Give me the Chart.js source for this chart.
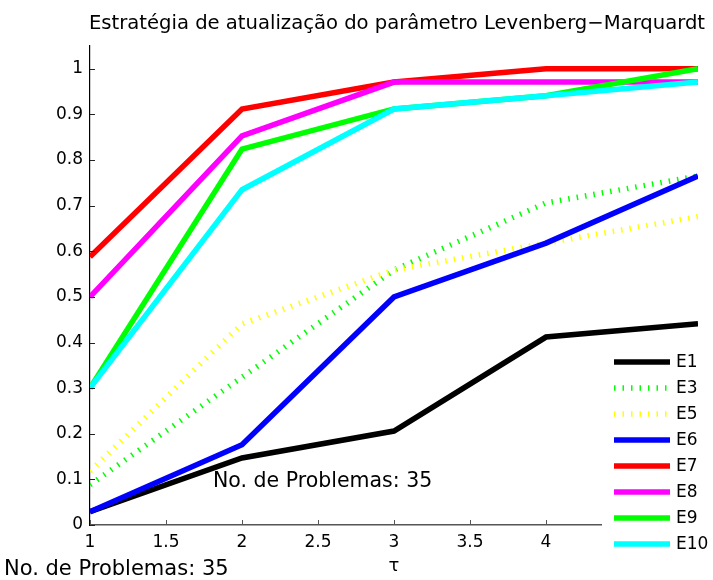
<!DOCTYPE html>
<html>
<head>
<meta charset="utf-8">
<script src="https://cdn.jsdelivr.net/npm/chart.js@4.4.0/dist/chart.umd.min.js"></script>
<style>
  html, body { margin: 0; padding: 0; background: #fff; }
  #wrap { width: 713px; height: 580px; }
</style>
</head>
<body>
<div id="wrap"><canvas id="perfChart"></canvas></div>
<script>
// valores de tau (eixo x)
const tau = [1, 2, 3, 4, 5];

// perfis de desempenho
const e1 = [0.029, 0.147, 0.206, 0.412, 0.441];
const e3 = [0.088, 0.324, 0.559, 0.706, 0.765];
const e5 = [0.118, 0.441, 0.559, 0.618, 0.676];
const e6 = [0.029, 0.176, 0.500, 0.618, 0.765];
const e7 = [0.588, 0.912, 0.971, 1.000, 1.000];
const e8 = [0.500, 0.853, 0.971, 0.971, 0.971];
const e9 = [0.300, 0.824, 0.912, 0.941, 1.000];
const e10 = [0.300, 0.735, 0.912, 0.941, 0.971];

const seriesNames = ['E1', 'E3', 'E5', 'E6', 'E7', 'E8', 'E9', 'E10'];
const seriesData = [e1, e3, e5, e6, e7, e8, e9, e10];
const seriesColors = ['#000000', '#00ff00', '#ffff00', '#0000ff', '#ff0000', '#ff00ff', '#00ff00', '#00ffff'];
const dotted = [false, true, true, false, false, false, false, false];

const chartTitle = 'Estratégia de atualização do parâmetro Levenberg\u2212Marquardt';
const noteText = 'No. de Problemas: 35';

const FONT = "'DejaVu Sans', Arial, sans-serif";

const datasets = seriesNames.map((name, i) => ({
  label: name,
  data: tau.map((t, k) => ({ x: t, y: seriesData[i][k] })),
  borderColor: seriesColors[i],
  backgroundColor: seriesColors[i],
  borderWidth: 5.5,
  borderDash: dotted[i] ? [1.5, 7] : [],
  borderCapStyle: 'butt',
  borderJoinStyle: 'miter',
  pointRadius: 0,
  fill: false,
  tension: 0,
  order: seriesNames.length - i  // E10 por cima
}));

// titulo, ticks para dentro, anotacoes e legenda
const extras = {
  id: 'extras',
  afterDraw(chart) {
    const ctx = chart.ctx;
    const xs = chart.scales.x;
    const ys = chart.scales.y;
    const area = chart.chartArea;
    ctx.save();

    // ticks para dentro
    ctx.strokeStyle = '#222';
    ctx.lineWidth = 1;
    ys.ticks.forEach(t => {
      const py = Math.round(ys.getPixelForValue(t.value)) + 0.5;
      ctx.beginPath();
      ctx.moveTo(area.left, py);
      ctx.lineTo(area.left + 5, py);
      ctx.stroke();
    });
    ctx.strokeStyle = '#555';
    xs.ticks.forEach(t => {
      const px = Math.round(xs.getPixelForValue(t.value)) + 0.5;
      ctx.beginPath();
      ctx.moveTo(px, area.bottom);
      ctx.lineTo(px, area.bottom - 5);
      ctx.stroke();
    });

    // titulo
    ctx.fillStyle = '#000';
    ctx.font = '19.6px ' + FONT;
    ctx.textAlign = 'center';
    ctx.textBaseline = 'alphabetic';
    ctx.fillText(chartTitle, 397, 29);

    // anotacoes
    ctx.font = '20.5px ' + FONT;
    ctx.textAlign = 'left';
    ctx.fillText(noteText, 213, 487);
    ctx.font = '21px ' + FONT;
    ctx.fillText(noteText, 4, 575);

    // legenda
    ctx.fillStyle = '#fff';
    ctx.fillRect(602, 345, 111, 217);
    ctx.font = '17px ' + FONT;
    ctx.textBaseline = 'middle';
    chart.data.datasets.forEach((ds, i) => {
      const y = 362 + i * 26;
      ctx.strokeStyle = ds.borderColor;
      ctx.lineWidth = ds.borderWidth;
      ctx.lineCap = 'butt';
      ctx.setLineDash(ds.borderDash);
      ctx.beginPath();
      ctx.moveTo(614, y);
      ctx.lineTo(670, y);
      ctx.stroke();
      ctx.setLineDash([]);
      ctx.fillStyle = '#000';
      ctx.fillText(ds.label, 676, y + 1);
    });
    ctx.restore();
  }
};

new Chart(document.getElementById('perfChart').getContext('2d'), {
  type: 'line',
  data: { datasets: datasets },
  options: {
    responsive: true,
    maintainAspectRatio: false,
    animation: false,
    events: [],
    layout: { padding: { left: 0, right: 15, top: 46, bottom: 0 } },
    plugins: {
      legend: { display: false },
      tooltip: { enabled: false },
      title: { display: false }
    },
    scales: {
      x: {
        type: 'linear',
        min: 1,
        max: 5,
        afterFit(scale) { scale.height = 55; },
        ticks: {
          stepSize: 0.5,
          color: '#000',
          font: { family: FONT, size: 17 },
          padding: 7,
          maxRotation: 0,
          callback: v => String(Math.round(v * 10) / 10)
        },
        grid: { display: false, drawTicks: false },
        border: { display: true, color: '#555', width: 1.5 },
        title: {
          display: true,
          text: 'τ',
          color: '#000',
          font: { family: FONT, size: 18 },
          padding: { top: 0, bottom: 3 }
        }
      },
      y: {
        min: 0,
        max: 1.05,
        afterFit(scale) { scale.width = 90; },
        ticks: {
          stepSize: 0.1,
          includeBounds: false,
          color: '#000',
          font: { family: FONT, size: 17 },
          padding: 7,
          callback: v => String(Math.round(v * 10) / 10)
        },
        grid: { display: false, drawTicks: false },
        border: { display: true, color: '#000', width: 1.2 }
      }
    }
  },
  plugins: [extras]
});
</script>
</body>
</html>
